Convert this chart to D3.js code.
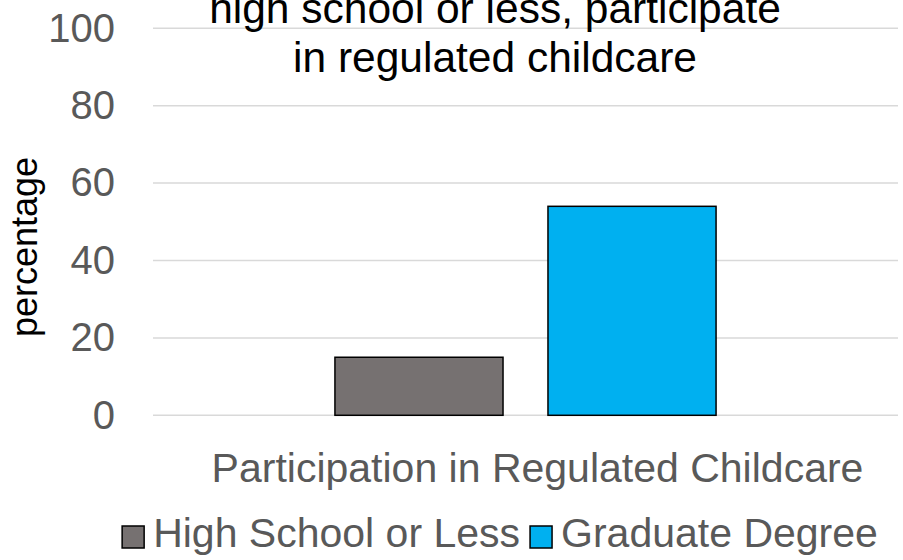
<!DOCTYPE HTML>
<html>
<head>
    <title>Regulated Childcare</title>
    <script type="text/javascript" src="https://cdnjs.cloudflare.com/ajax/libs/d3/7.8.5/d3.min.js"></script>
    <style>
        body { margin: 0; background: white; }
        text { font-family: "Liberation Sans", Arial, sans-serif; }
        .grid line { stroke: #d9d9d9; stroke-width: 1.5; }
    </style>
</head>
<body>
    <div id="panel"></div>
    <script>
        var categories = ["Participation in Regulated Childcare"];
        var series_names = ["High School or Less", "Graduate Degree"];
        var series_colors = ["#767171", "#00b0f0"];
        var high_school = [15];
        var graduate = [54];
        var y_ticks = [0, 20, 40, 60, 80, 100];
        var title_lines = ["high school or less, participate", "in regulated childcare"];

        var width = 903, height = 560;
        var plot = {left: 153, right: 898, top: 28.3, bottom: 415.3};

        var svg = d3.select("#panel").append("svg")
                    .attr("width", width)
                    .attr("height", height);

        var x0 = d3.scaleBand().domain(categories).range([plot.left, plot.right]);
        var x1 = d3.scaleBand().domain(series_names)
                   .range([0, x0.bandwidth()])
                   .paddingInner(0.211)
                   .paddingOuter(0.854);
        var y = d3.scaleLinear().domain([0, 100]).range([plot.bottom, plot.top]);

        // grid lines
        var grid = svg.append("g").attr("class", "grid");
        grid.selectAll("line").data(y_ticks).enter().append("line")
            .attr("x1", plot.left).attr("x2", plot.right)
            .attr("y1", d => y(d)).attr("y2", d => y(d));

        // y axis tick labels
        var yAxis = svg.append("g")
                       .attr("transform", "translate(" + (plot.left - 38) + ",0)")
                       .call(d3.axisLeft(y).tickValues(y_ticks).tickSize(0).tickPadding(0));
        yAxis.select(".domain").remove();
        yAxis.selectAll("text")
             .attr("fill", "#595959")
             .style("font-size", "40px")
             .style("font-family", "'Liberation Sans', Arial, sans-serif");

        // bars
        var rows = categories.map((c, i) => ({cat: c, values: [high_school[i], graduate[i]]}));
        var groups = svg.selectAll(".cat").data(rows).enter().append("g")
                        .attr("class", "cat")
                        .attr("transform", d => "translate(" + x0(d.cat) + ",0)");
        groups.selectAll("rect")
              .data(d => d.values.map((v, j) => ({name: series_names[j], value: v, color: series_colors[j]})))
              .enter().append("rect")
              .attr("x", d => x1(d.name))
              .attr("y", d => y(d.value))
              .attr("width", x1.bandwidth())
              .attr("height", d => y(0) - y(d.value))
              .attr("fill", d => d.color)
              .attr("stroke", "black")
              .attr("stroke-width", 1.5);

        // category label
        svg.selectAll(".cat-label").data(categories).enter().append("text")
           .attr("class", "cat-label")
           .attr("x", d => x0(d) + x0.bandwidth() / 2 + 12)
           .attr("y", 482)
           .attr("text-anchor", "middle")
           .attr("fill", "#595959")
           .style("font-size", "41px")
           .text(d => d);

        // y axis title
        svg.append("text")
           .attr("transform", "translate(37,247) rotate(-90)")
           .attr("text-anchor", "middle")
           .attr("fill", "black")
           .style("font-size", "36px")
           .text("percentage");

        // title (top lines cut off by the frame)
        svg.selectAll(".title").data(title_lines).enter().append("text")
           .attr("class", "title")
           .attr("x", 495)
           .attr("y", (d, i) => 23 + i * 49)
           .attr("text-anchor", "middle")
           .attr("fill", "black")
           .style("font-size", "42.5px")
           .text(d => d);

        // legend
        var legend = svg.append("g");
        var lx = 0;
        series_names.forEach(function(name, i) {
            legend.append("rect")
                  .attr("x", lx).attr("y", 526)
                  .attr("width", 22).attr("height", 22)
                  .attr("fill", series_colors[i])
                  .attr("stroke", "black")
                  .attr("stroke-width", 1.5);
            var t = legend.append("text")
                  .attr("x", lx + 31).attr("y", 547)
                  .attr("fill", "#595959")
                  .style("font-size", "41px")
                  .text(name);
            lx += 31 + t.node().getComputedTextLength() + 10;
        });
        var lw = lx - 10;
        legend.attr("transform", "translate(" + (500 - lw / 2) + ",0)");
    </script>
</body>
</html>
